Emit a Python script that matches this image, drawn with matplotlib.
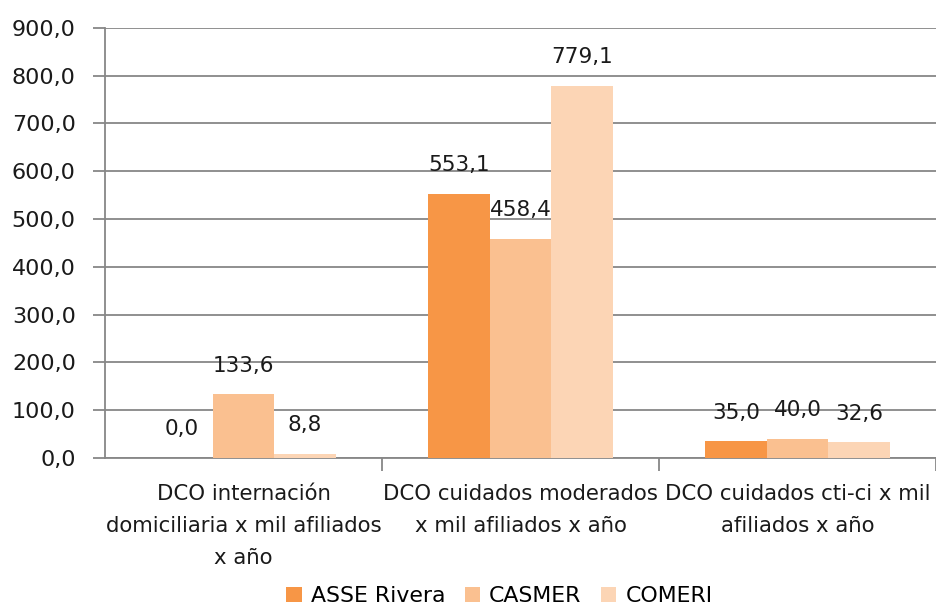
import matplotlib
matplotlib.use("Agg")
import matplotlib.pyplot as plt
import numpy as np

categories = ["DCO internación\ndomiciliaria x mil afiliados\nx año",
              "DCO cuidados moderados\nx mil afiliados x año",
              "DCO cuidados cti-ci x mil\nafiliados x año"]
series_names = ["ASSE Rivera", "CASMER", "COMERI"]
asse = [0.0, 553.1, 35.0]
casmer = [133.6, 458.4, 40.0]
comeri = [8.8, 779.1, 32.6]
colors = ["#F79646", "#FAC090", "#FCD5B5"]

plt.rcParams['font.family'] = ['DejaVu Sans']
fig = plt.figure(figsize=(9.37, 6.08), dpi=100)
ax = fig.add_axes([0.112, 0.247, 0.887, 0.707])

x = np.arange(len(categories))
w = 0.222
for i, (vals, name) in enumerate(zip([asse, casmer, comeri], series_names)):
    bars = ax.bar(x + (i - 1) * w, vals, w, color=colors[i], label=name, zorder=3)
    for b, v in zip(bars, vals):
        ax.annotate(("%.1f" % v).replace(".", ","),
                    (b.get_x() + b.get_width() / 2, b.get_height()),
                    xytext=(0, 20.5), textcoords="offset points",
                    ha="center", va="center", fontsize=15.5, color="#1a1a1a", zorder=4)

ax.set_xlim(-0.5, 2.5)
ax.set_ylim(0, 900)
ax.set_yticks(np.arange(0, 901, 100))
ax.set_yticklabels([("%.1f" % t).replace(".", ",") for t in np.arange(0, 901, 100)],
                   fontsize=16, color="#1a1a1a")
ax.yaxis.grid(True, color="#878787", linewidth=1.3, zorder=0)
ax.tick_params(axis="y", length=9, color="#878787", width=1.3, pad=12)

ax.set_xticks(x)
ax.set_xticklabels(categories, fontsize=15.3, color="#1a1a1a", linespacing=1.75)
ax.tick_params(axis="x", length=0, pad=19)
ax.set_xticks([0.5, 1.5, 2.5], minor=True)
ax.tick_params(axis="x", which="minor", length=9, color="#878787", width=1.3)

for s in ["top", "right"]:
    ax.spines[s].set_visible(False)
for s in ["left", "bottom"]:
    ax.spines[s].set_color("#878787")
    ax.spines[s].set_linewidth(1.3)

fig.legend(loc="lower center", bbox_to_anchor=(0.533, -0.03), ncol=3, frameon=False,
           fontsize=15.8, handlelength=0.7, handleheight=0.7, handletextpad=0.4,
           columnspacing=0.9)

fig.savefig("out.png", dpi=100)
